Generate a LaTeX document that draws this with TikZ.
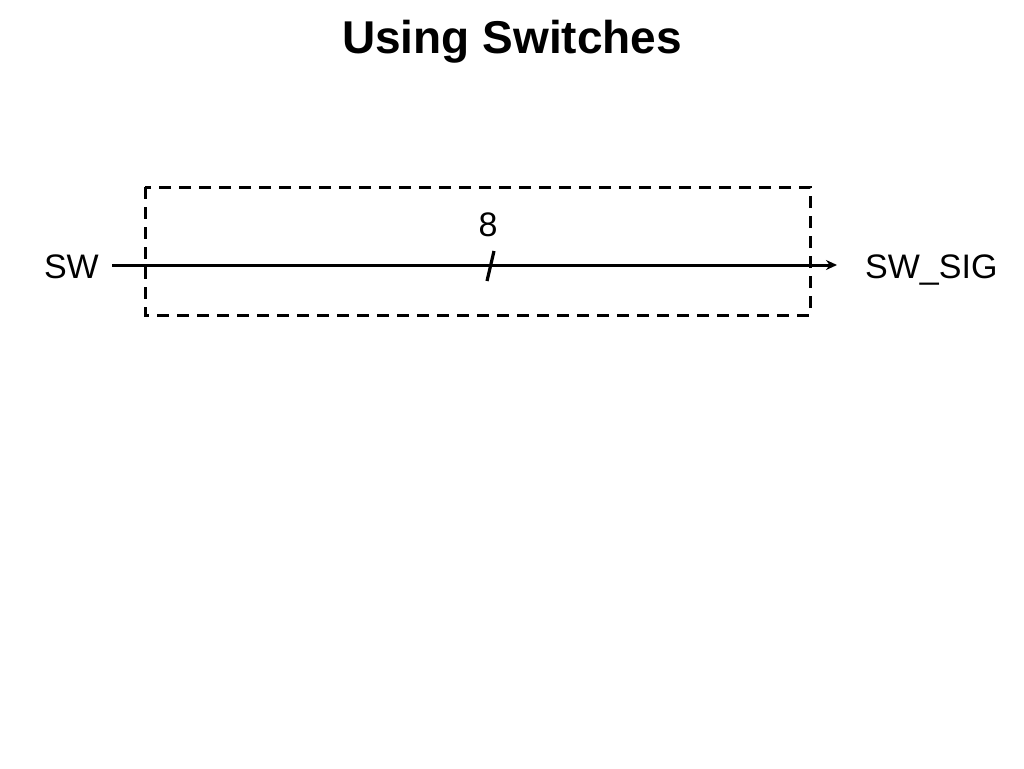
\documentclass[tikz,border=0pt]{standalone}
\usepackage{fontspec}
\setmainfont{Liberation Sans}
\usetikzlibrary{arrows.meta}

\begin{document}
\begin{tikzpicture}[x=1pt, y=-1pt,
    lbl/.style={font=\fontsize{34}{40}\selectfont, inner sep=0pt},
    bus/.style={line width=3pt, -{Stealth[length=11pt,width=10pt]}}]
  \useasboundingbox[fill=white] (0,0) rectangle (1024,768);
  \node[font=\fontsize{46}{54}\selectfont\bfseries, inner sep=0pt, anchor=base] (title) at (512,53) {Using Switches};
  \draw[line width=3pt, dash pattern=on 12pt off 8pt] (145,187) rectangle (810,315);
  \node[lbl, anchor=base east] (sw) at (99,278) {SW};
  \node[lbl, anchor=base west] (swsig) at (865,278) {SW\_SIG};
  \coordinate (in) at (112,265);
  \coordinate (out) at (837,265);
  \draw[bus] (in) -- (out);
  \draw[line width=3.2pt] (487,281) -- (494,251);
  \node[lbl, anchor=base] (width) at (488,236) {8};
\end{tikzpicture}
\end{document}
